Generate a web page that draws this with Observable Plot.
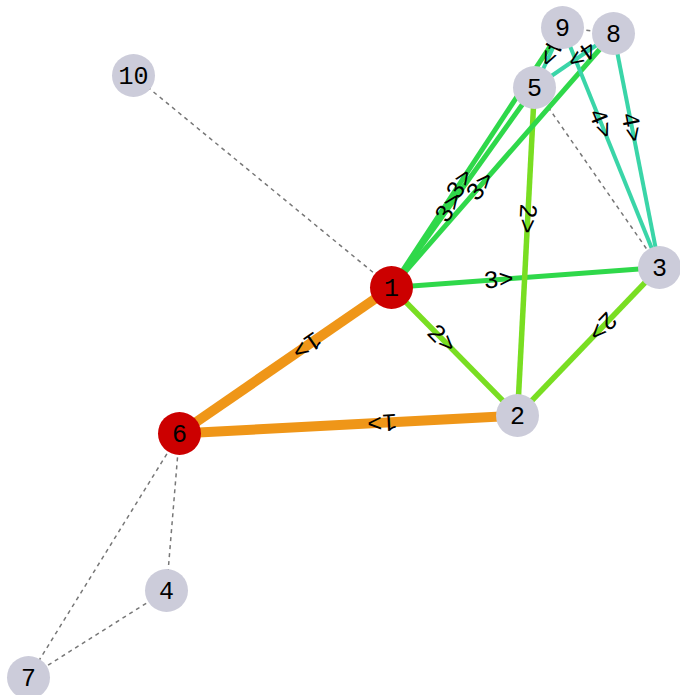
<!DOCTYPE html>
<html>
<head>
<meta charset="utf-8">
<script src="https://cdn.jsdelivr.net/npm/d3@7"></script>
<script src="https://cdn.jsdelivr.net/npm/@observablehq/plot@0.6"></script>
<style>
  html, body { margin: 0; padding: 0; background: #fff; }
</style>
</head>
<body>
<div id="chart"></div>
<script>
// Nodes
const nodeIds = ["1", "2", "3", "4", "5", "6", "7", "8", "9", "10"];
const nodeX   = [391, 517, 659, 166, 534, 179, 28, 613, 562, 133];
const nodeY   = [287, 415, 267, 590, 87, 433, 677, 33, 27, 75];
const nodeHighlighted = [true, false, false, false, false, true, false, false, false, false];

// Weighted directed edges
const edgeSource = ["1", "2", "1", "1", "5", "3", "1", "1", "1", "9", "8", "9", "8"];
const edgeTarget = ["6", "6", "2", "3", "2", "2", "5", "9", "8", "5", "5", "3", "3"];
const edgeWeight = [1, 1, 2, 3, 2, 2, 3, 3, 3, 4, 4, 4, 4];

// Undirected dashed links
const dashSource = ["1", "6", "6", "4", "5", "9", "9"];
const dashTarget = ["10", "4", "7", "7", "3", "8", "5"];

// Styles per weight
const weightColors = {1: "#ef9618", 2: "#79de22", 3: "#2fd84a", 4: "#3ad5a8"};
const weightWidths = {1: 10, 2: 5.5, 3: 5, 4: 4};

const pos = new Map(nodeIds.map((id, i) => [id, {x: nodeX[i], y: nodeY[i]}]));
const nodes = nodeIds.map((id, i) => ({id, x: nodeX[i], y: nodeY[i], hi: nodeHighlighted[i]}));
const edges = edgeSource.map((s, i) => {
  const a = pos.get(s), b = pos.get(edgeTarget[i]);
  const t = 0.4;
  return {
    x1: a.x, y1: a.y, x2: b.x, y2: b.y, w: edgeWeight[i],
    lx: a.x + t * (b.x - a.x), ly: a.y + t * (b.y - a.y),
    angle: Math.atan2(b.y - a.y, b.x - a.x) * 180 / Math.PI,
    label: edgeWeight[i] + ">"
  };
});
const dashes = dashSource.map((s, i) => {
  const a = pos.get(s), b = pos.get(dashTarget[i]);
  return {x1: a.x, y1: a.y, x2: b.x, y2: b.y};
});

const chart = Plot.plot({
  width: 680,
  height: 695,
  margin: 0,
  x: {domain: [0, 680], range: [0, 680], axis: null},
  y: {domain: [0, 695], range: [0, 695], axis: null},
  style: {background: "#fff"},
  marks: [
    Plot.link(dashes, {x1: "x1", y1: "y1", x2: "x2", y2: "y2", stroke: "#777", strokeWidth: 1.5, strokeDasharray: "4,4"}),
    Plot.link(edges, {x1: "x1", y1: "y1", x2: "x2", y2: "y2",
      stroke: d => weightColors[d.w], strokeWidth: d => weightWidths[d.w]}),
    Plot.text(edges, {x: "lx", y: "ly", text: "label", rotate: "angle",
      fontSize: 25, fontFamily: "Liberation Mono", fill: "#000"}),
    Plot.dot(nodes, {x: "x", y: "y", r: 21.5, fill: d => d.hi ? "#cc0000" : "#ccccda", stroke: "none"}),
    Plot.text(nodes, {x: "x", y: "y", text: "id", fontSize: 25, fontFamily: "Liberation Mono", fill: "#000"})
  ]
});
document.getElementById("chart").appendChild(chart);
</script>
</body>
</html>
